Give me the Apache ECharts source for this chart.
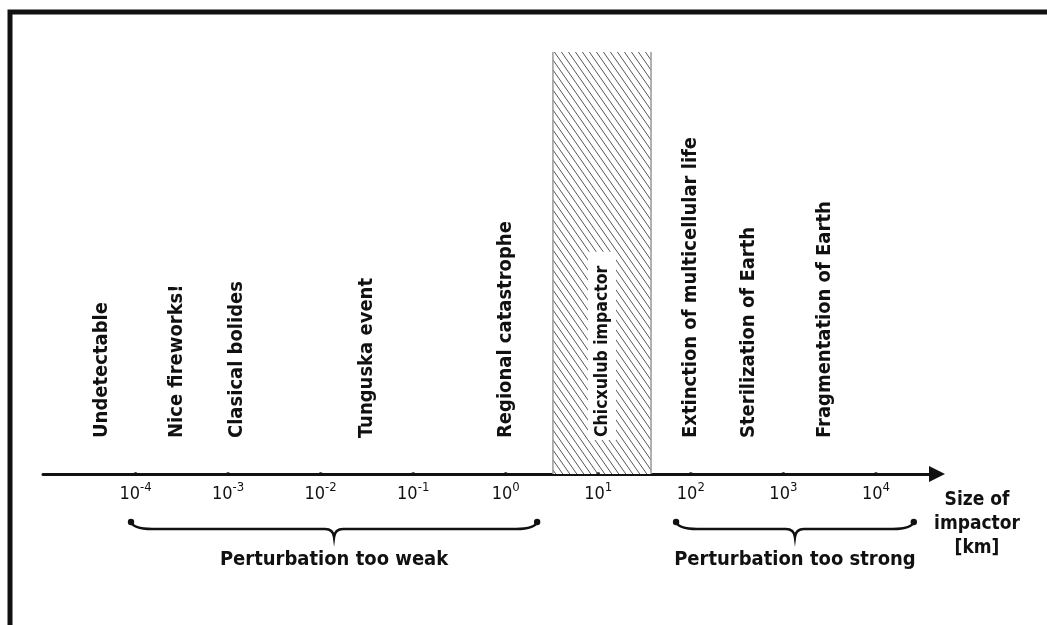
<!DOCTYPE html>
<html>
<head>
<meta charset="utf-8">
<script src="https://cdn.jsdelivr.net/npm/echarts@6/dist/echarts.min.js"></script>
<style>
html,body{margin:0;padding:0;background:#fff;}
#chart{width:1047px;height:625px;}
</style>
</head>
<body>
<div id="chart"></div>
<script>
// ---- data (x values are log10 of impactor size in km) ----
var tickExponents = [-4, -3, -2, -1, 0, 1, 2, 3, 4];
var eventNames = ['Undetectable', 'Nice fireworks!', 'Clasical bolides', 'Tunguska event',
  'Regional catastrophe', 'Extinction of multicellular life', 'Sterilization of Earth', 'Fragmentation of Earth'];
var eventLogSize = [-4.36, -3.55, -2.91, -1.5, 0.0, 2.0, 2.63, 3.45];
var bandName = 'Chicxulub impactor';
var bandRange = [0.51, 1.57];
var bandLabelPos = 1.04;
var braceNames = ['Perturbation too weak', 'Perturbation too strong'];
var braceStart = [-4.06, 1.83];
var braceEnd = [0.35, 4.42];
var axisTitle = 'Size of\nimpactor\n[km]';

var FONT = '"DejaVu Sans Condensed", "DejaVu Sans", sans-serif';
var INK = '#111';

// hatch pattern
var pc = document.createElement('canvas');
pc.width = 7; pc.height = 10;
var ctx = pc.getContext('2d');
ctx.fillStyle = '#fff'; ctx.fillRect(0, 0, 7, 10);
ctx.strokeStyle = '#555'; ctx.lineWidth = 1;
[-7, 0, 7].forEach(function (dx) {
  ctx.beginPath(); ctx.moveTo(dx, 0); ctx.lineTo(dx + 7, 10); ctx.stroke();
});

var chart = echarts.init(document.getElementById('chart'), null, {renderer: 'canvas'});

var option = {
  backgroundColor: '#fff',
  animation: false,
  graphic: [{
    type: 'polyline',
    shape: {points: [[10, 625], [10, 12], [1047, 12]]},
    style: {stroke: INK, lineWidth: 5, fill: null}
  }],
  grid: {left: 43, right: 110, top: 52, bottom: 151},
  xAxis: {
    type: 'value', min: -5, max: 4.66, interval: 1,
    splitLine: {show: false},
    axisTick: {show: false},
    axisLine: {
      show: true, onZero: false,
      symbol: ['none', 'triangle'], symbolSize: [16, 16],
      lineStyle: {color: INK, width: 3}
    },
    axisLabel: {
      margin: 7,
      showMinLabel: true, showMaxLabel: true,
      formatter: function (v) {
        if (tickExponents.indexOf(v) < 0) return '';
        return '{b|10}{s|' + v + '}';
      },
      rich: {
        b: {fontSize: 18, fontFamily: FONT, color: INK, lineHeight: 22, verticalAlign: 'bottom'},
        s: {fontSize: 13, fontFamily: FONT, color: INK, lineHeight: 12, verticalAlign: 'top'}
      }
    },
    name: axisTitle,
    nameLocation: 'end',
    nameGap: 40,
    nameTextStyle: {
      fontFamily: FONT, fontWeight: 'bold', fontSize: 19, color: INK,
      align: 'center', verticalAlign: 'top', lineHeight: 24, padding: [14, 0, 0, 0]
    }
  },
  yAxis: {type: 'value', min: 0, max: 1, show: false},
  series: [
    {
      type: 'custom',
      z: 1,
      data: [bandRange],
      renderItem: function (params, api) {
        var p0 = api.coord([api.value(0), 1]);
        var p1 = api.coord([api.value(1), 0]);
        return {
          type: 'group',
          children: [
            {type: 'rect', shape: {x: p0[0], y: p0[1], width: p1[0] - p0[0], height: p1[1] - p0[1]},
              style: {fill: {image: pc, repeat: 'repeat'}}},
            {type: 'line', shape: {x1: p0[0], y1: p0[1], x2: p0[0], y2: p1[1]}, style: {stroke: '#999', lineWidth: 1.5}},
            {type: 'line', shape: {x1: p1[0], y1: p0[1], x2: p1[0], y2: p1[1]}, style: {stroke: '#999', lineWidth: 1.5}}
          ]
        };
      }
    },
    {
      type: 'custom',
      z: 3,
      data: [[bandLabelPos, bandName]],
      renderItem: function (params, api) {
        var p = api.coord([api.value(0), 0]);
        return {
          type: 'text', x: p[0], y: p[1] - 34, rotation: Math.PI / 2,
          style: {
            text: bandName, fill: INK, fontFamily: FONT, fontWeight: 'bold', fontSize: 17.5,
            align: 'left', verticalAlign: 'middle',
            backgroundColor: '#fff', padding: [5, 14, 5, 3]
          }
        };
      }
    },
    {
      type: 'custom',
      z: 3,
      data: eventLogSize.map(function (v, i) { return [v, i]; }),
      renderItem: function (params, api) {
        var p = api.coord([api.value(0), 0]);
        return {
          type: 'text', x: p[0], y: p[1] - 36, rotation: Math.PI / 2,
          style: {
            text: eventNames[api.value(1)], fill: INK, fontFamily: FONT, fontWeight: 'bold', fontSize: 20,
            align: 'left', verticalAlign: 'middle'
          }
        };
      }
    },
    {
      type: 'custom',
      z: 3,
      data: braceStart.map(function (v, i) { return [v, braceEnd[i], i]; }),
      renderItem: function (params, api) {
        var a = api.coord([api.value(0), 0]);
        var b = api.coord([api.value(1), 0]);
        var x0 = a[0], x1 = b[0], xm = (x0 + x1) / 2, ax = a[1];
        var y0 = ax + 47, y1 = ax + 55, y2 = ax + 63;
        var path = 'M' + x0 + ' ' + y0 +
          ' Q' + (x0 + 3) + ' ' + y1 + ' ' + (x0 + 22) + ' ' + y1 +
          ' L' + (xm - 9) + ' ' + y1 +
          ' Q' + (xm - 1) + ' ' + y1 + ' ' + xm + ' ' + y2 +
          ' Q' + (xm + 1) + ' ' + y1 + ' ' + (xm + 9) + ' ' + y1 +
          ' L' + (x1 - 22) + ' ' + y1 +
          ' Q' + (x1 - 3) + ' ' + y1 + ' ' + x1 + ' ' + y0;
        return {
          type: 'group',
          children: [
            {type: 'path', shape: {pathData: path}, style: {stroke: INK, lineWidth: 2.5, fill: null}},
            {type: 'circle', shape: {cx: x0 + 1, cy: y0 + 1, r: 3.2}, style: {fill: INK}},
            {type: 'circle', shape: {cx: x1 - 1, cy: y0 + 1, r: 3.2}, style: {fill: INK}},
            {type: 'text', x: xm, y: ax + 86,
              style: {text: braceNames[api.value(2)], fill: INK, fontFamily: FONT, fontWeight: 'bold', fontSize: 20,
                align: 'center', verticalAlign: 'middle'}}
          ]
        };
      }
    },
    {
      type: 'scatter',
      z: 4,
      symbol: 'circle',
      symbolSize: 4,
      itemStyle: {color: INK},
      data: tickExponents.map(function (v) { return [v, 0]; })
    }
  ]
};
chart.setOption(option);
</script>
</body>
</html>
